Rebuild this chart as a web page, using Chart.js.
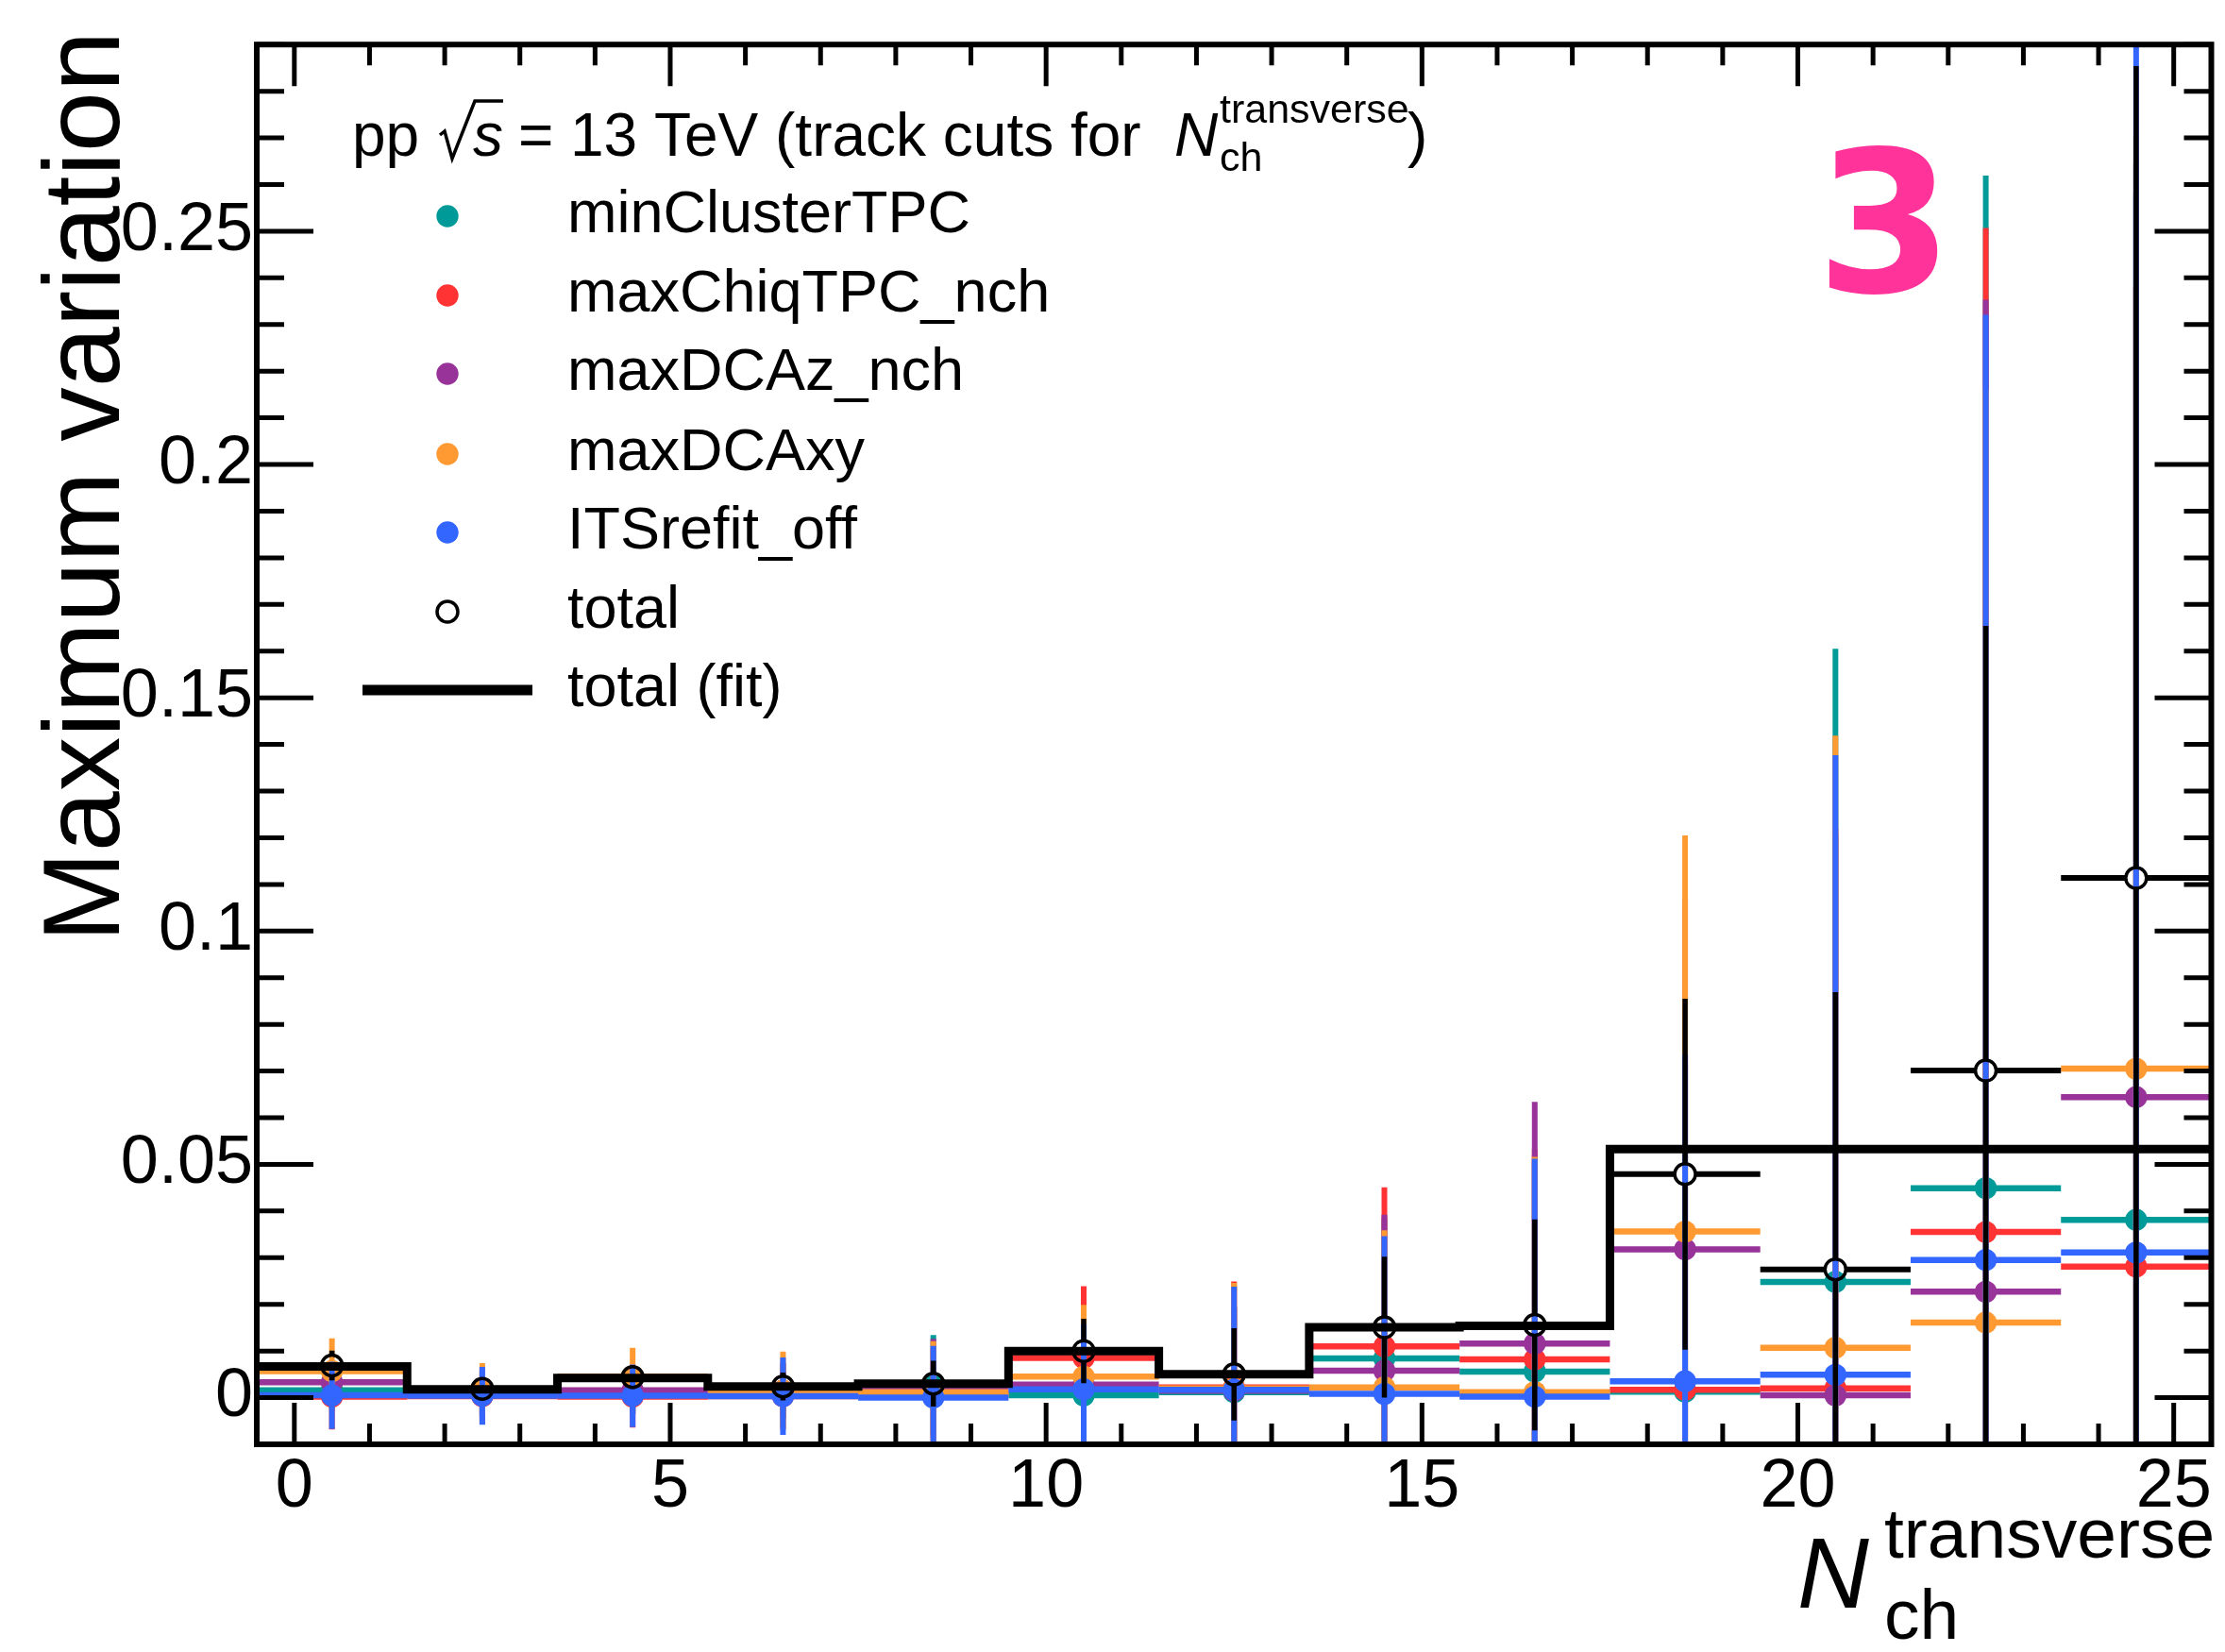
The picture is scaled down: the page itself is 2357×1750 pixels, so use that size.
<!DOCTYPE html>
<html>
<head>
<meta charset="utf-8">
<script src="https://cdn.jsdelivr.net/npm/chart.js@4.4.1/dist/chart.umd.min.js"></script>
<style>
  html, body { margin: 0; padding: 0; background: #fff; }
  canvas { display: block; }
</style>
</head>
<body>
<canvas id="variation" width="2357" height="1750" style="width:2357px;height:1750px"></canvas>
<script>
// bins of width 2 in N_ch (transverse)
const binCenters = [0.5, 2.5, 4.5, 6.5, 8.5, 10.5, 12.5, 14.5, 16.5, 18.5, 20.5, 22.5, 24.5];
const binHalfWidth = 1;

const seriesNames = ["minClusterTPC", "maxChiqTPC_nch", "maxDCAz_nch", "maxDCAxy", "ITSrefit_off"];
const seriesColors = ["#009a99", "#ff3333", "#973399", "#ff9a33", "#3366ff"];

const minClusterTPC    = [0.0016, 0.0005, 0.0005, 0.0005, 0.0028, 0.0005, 0.0012, 0.0084, 0.0056, 0.0013, 0.0248, 0.0449, 0.0381];
const minClusterTPCErr = [0.0040, 0.0040, 0.0040, 0.0050, 0.0106, 0.0120, 0.0180, 0.0300, 0.0450, 0.0700, 0.1357, 0.2170, 0.2200];
const maxChiqTPC       = [0.0002, 0.0003, 0.0002, 0.0003, 0.0008, 0.0085, 0.0022, 0.0110, 0.0082, 0.0017, 0.0020, 0.0355, 0.0281];
const maxChiqTPCErr    = [0.0070, 0.0060, 0.0066, 0.0070, 0.0095, 0.0154, 0.0227, 0.0341, 0.0450, 0.0700, 0.1200, 0.2152, 0.2100];
const maxDCAz          = [0.0033, 0.0006, 0.0016, 0.0015, 0.0016, 0.0028, 0.0015, 0.0058, 0.0116, 0.0318, 0.0005, 0.0227, 0.0644];
const maxDCAzErr       = [0.0040, 0.0050, 0.0050, 0.0060, 0.0110, 0.0120, 0.0180, 0.0334, 0.0518, 0.0750, 0.1200, 0.2126, 0.2000];
const maxDCAxy         = [0.0057, 0.0018, 0.0045, 0.0015, 0.0012, 0.0045, 0.0020, 0.0022, 0.0012, 0.0356, 0.0107, 0.0161, 0.0705];
const maxDCAxyErr      = [0.0070, 0.0056, 0.0062, 0.0084, 0.0109, 0.0154, 0.0226, 0.0337, 0.0504, 0.0849, 0.1312, 0.2000, 0.2000];
const itsRefitOff      = [0.0005, 0.0004, 0.0004, 0.0003, 0.0000, 0.0018, 0.0017, 0.0008, 0.0002, 0.0035, 0.0049, 0.0295, 0.0311];
const itsRefitOffErr   = [0.0072, 0.0062, 0.0067, 0.0083, 0.0111, 0.0140, 0.0221, 0.0338, 0.0510, 0.0700, 0.1328, 0.2026, 0.3000];

const totalVar = [0.0069, 0.0019, 0.0044, 0.0024, 0.0030, 0.0100, 0.0050, 0.0151, 0.0156, 0.0479, 0.0275, 0.0701, 0.1114];
const totalErr = [0.0032, 0.0020, 0.0025, 0.0030, 0.0049, 0.0069, 0.0099, 0.0151, 0.0226, 0.0376, 0.0594, 0.0953, 0.1740];
const totalFit = [0.0067, 0.0018, 0.0042, 0.0024, 0.0030, 0.0100, 0.0050, 0.0151, 0.0154, 0.0533, 0.0533, 0.0533, 0.0533];

const xTickValues = [0, 5, 10, 15, 20, 25];
const yTickValues = [0, 0.05, 0.1, 0.15, 0.2, 0.25];
const yTickLabels = ["0", "0.05", "0.1", "0.15", "0.2", "0.25"];

const FONT = '"Liberation Sans", Arial, Helvetica, sans-serif';

document.addEventListener("DOMContentLoaded", () => {
  drawChart();
});

function toPoints(values) {
  return binCenters.map((x, i) => ({ x: x, y: values[i] }));
}

function seriesDataset(idx, values, errors) {
  return {
    label: seriesNames[idx],
    data: toPoints(values),
    yErr: errors,
    barColor: seriesColors[idx],
    xBarWidth: 6.5,
    yBarWidth: 6,
    markerGap: 0,
    pointRadius: 11.7,
    pointHoverRadius: 11.7,
    pointBackgroundColor: seriesColors[idx],
    pointBorderWidth: 0,
    showLine: false,
    order: 6 - idx,
  };
}

// left bin edges for the fitted step, plus the closing right edge
function stepPoints() {
  const pts = binCenters.map((c, i) => ({ x: c - binHalfWidth, y: totalFit[i] }));
  pts.push({ x: binCenters[binCenters.length - 1] + binHalfWidth, y: totalFit[totalFit.length - 1] });
  return pts;
}

// error bars in ROOT style, drawn just before each dataset's markers
const errorBars = {
  id: "errorBars",
  beforeDatasetDraw(chart, args) {
    const ds = chart.data.datasets[args.index];
    if (!ds.yErr) return;
    const { ctx, chartArea: a } = chart;
    const xs = chart.scales.x;
    const ys = chart.scales.y;
    ctx.save();
    ctx.beginPath();
    ctx.rect(a.left, a.top, a.right - a.left, a.bottom - a.top);
    ctx.clip();
    ctx.strokeStyle = ds.barColor;
    ctx.lineCap = "butt";
    ds.data.forEach((p, i) => {
      const px = xs.getPixelForValue(p.x);
      const py = ys.getPixelForValue(p.y);
      const xl = xs.getPixelForValue(p.x - binHalfWidth);
      const xr = xs.getPixelForValue(p.x + binHalfWidth);
      const yt = ys.getPixelForValue(p.y + ds.yErr[i]);
      const yb = ys.getPixelForValue(p.y - ds.yErr[i]);
      const g = ds.markerGap;

      ctx.lineWidth = ds.xBarWidth;
      ctx.beginPath();
      ctx.moveTo(xl, py); ctx.lineTo(px - g, py);
      ctx.moveTo(px + g, py); ctx.lineTo(xr, py);
      ctx.stroke();

      ctx.lineWidth = ds.yBarWidth;
      ctx.beginPath();
      if (yt < py - g) { ctx.moveTo(px, yt); ctx.lineTo(px, py - g); }
      if (yb > py + g) { ctx.moveTo(px, py + g); ctx.lineTo(px, yb); }
      ctx.stroke();
    });
    ctx.restore();
  },
};

function drawFrame(chart) {
  const { ctx, chartArea: a } = chart;
  const xs = chart.scales.x;
  const ys = chart.scales.y;
  ctx.save();
  ctx.strokeStyle = "#000";
  ctx.lineWidth = 5;
  ctx.beginPath();
  for (let v = 0; v <= 25; v++) {
    const px = xs.getPixelForValue(v);
    const len = v % 5 === 0 ? 44 : 22;
    ctx.moveTo(px, a.bottom); ctx.lineTo(px, a.bottom - len);
    ctx.moveTo(px, a.top); ctx.lineTo(px, a.top + len);
  }
  for (let k = -1; k <= 29; k++) {
    const py = ys.getPixelForValue(k / 100);
    const len = k % 5 === 0 ? 60 : 29;
    ctx.moveTo(a.left, py); ctx.lineTo(a.left + len, py);
    ctx.moveTo(a.right, py); ctx.lineTo(a.right - len, py);
  }
  ctx.stroke();
  ctx.lineWidth = 6;
  ctx.strokeRect(a.left, a.top, a.right - a.left, a.bottom - a.top);
  ctx.restore();
}

function drawTitles(ctx) {
  ctx.save();
  ctx.fillStyle = "#000";

  // y axis title, right-aligned to the top of the frame
  ctx.save();
  ctx.translate(126, 33);
  ctx.rotate(-Math.PI / 2);
  ctx.font = "115px " + FONT;
  ctx.textAlign = "right";
  ctx.textBaseline = "alphabetic";
  ctx.fillText("Maximum variation", 0, 0);
  ctx.restore();

  // x axis title N_ch^transverse
  ctx.textAlign = "left";
  ctx.textBaseline = "alphabetic";
  ctx.font = "italic 105px " + FONT;
  ctx.fillText("N", 1904, 1703);
  ctx.font = "75px " + FONT;
  ctx.fillText("transverse", 1996, 1650);
  ctx.fillText("ch", 1996, 1736);
  ctx.restore();
}

function drawLegend(ctx) {
  ctx.save();
  ctx.fillStyle = "#000";
  ctx.textAlign = "left";
  ctx.textBaseline = "alphabetic";

  // header: pp sqrt(s) = 13 TeV (track cuts for N_ch^transverse)
  const base = 165;
  ctx.font = "64px " + FONT;
  ctx.fillText("pp", 373, base);
  ctx.strokeStyle = "#000";
  ctx.lineWidth = 3.5;
  ctx.lineJoin = "miter";
  ctx.beginPath();
  ctx.moveTo(466, 143);
  ctx.lineTo(471, 139);
  ctx.lineTo(479, 168);
  ctx.lineTo(503, 107);
  ctx.lineTo(533, 107);
  ctx.stroke();
  ctx.font = "italic 64px " + FONT;
  ctx.fillText("s", 501, base);
  ctx.font = "64px " + FONT;
  ctx.fillText("=", 549, base);
  ctx.fillText("13 TeV (track cuts for", 604, base);
  ctx.font = "italic 64px " + FONT;
  ctx.fillText("N", 1244, base);
  ctx.font = "43px " + FONT;
  ctx.fillText("transverse", 1292, 130);
  ctx.fillText("ch", 1292, 181);
  ctx.font = "64px " + FONT;
  ctx.fillText(")", 1491, base);

  const rows = [229, 313, 396, 481, 564, 648, 731];
  const markerX = 474;
  const textX = 601;
  ctx.font = "63px " + FONT;
  seriesNames.forEach((name, i) => {
    ctx.fillStyle = seriesColors[i];
    ctx.beginPath();
    ctx.arc(markerX, rows[i], 11.7, 0, Math.PI * 2);
    ctx.fill();
    ctx.fillStyle = "#000";
    ctx.fillText(name, textX, rows[i] + 17);
  });

  ctx.lineWidth = 3.5;
  ctx.beginPath();
  ctx.arc(markerX, rows[5], 11, 0, Math.PI * 2);
  ctx.stroke();
  ctx.fillText("total", textX, rows[5] + 17);

  ctx.lineWidth = 11;
  ctx.beginPath();
  ctx.moveTo(384, rows[6]);
  ctx.lineTo(564, rows[6]);
  ctx.stroke();
  ctx.fillText("total (fit)", textX, rows[6] + 17);

  // panel number
  ctx.fillStyle = "#ff3399";
  ctx.font = 'bold 208px "DejaVu Sans", sans-serif';
  ctx.fillText("3", 1924, 309);
  ctx.restore();
}

const decorations = {
  id: "decorations",
  afterDatasetsDraw(chart) {
    drawFrame(chart);
  },
  afterDraw(chart) {
    drawTitles(chart.ctx);
    drawLegend(chart.ctx);
  },
};

function drawChart() {
  const canvas = document.getElementById("variation");

  const datasets = [
    {
      label: "total",
      data: toPoints(totalVar),
      yErr: totalErr,
      barColor: "#000",
      xBarWidth: 6,
      yBarWidth: 5.5,
      markerGap: 12,
      pointRadius: 11,
      pointHoverRadius: 11,
      pointBackgroundColor: "rgba(0,0,0,0)",
      pointBorderColor: "#000",
      pointBorderWidth: 3.5,
      showLine: false,
      order: 0,
    },
    {
      label: "total (fit)",
      data: stepPoints(),
      showLine: true,
      stepped: "before",
      borderColor: "#000",
      borderWidth: 9,
      borderJoinStyle: "miter",
      borderCapStyle: "butt",
      pointRadius: 0,
      pointHoverRadius: 0,
      fill: false,
      order: 1,
    },
    seriesDataset(4, itsRefitOff, itsRefitOffErr),
    seriesDataset(3, maxDCAxy, maxDCAxyErr),
    seriesDataset(2, maxDCAz, maxDCAzErr),
    seriesDataset(1, maxChiqTPC, maxChiqTPCErr),
    seriesDataset(0, minClusterTPC, minClusterTPCErr),
  ];

  new Chart(canvas, {
    type: "scatter",
    data: { datasets: datasets },
    options: {
      responsive: false,
      animation: false,
      events: [],
      layout: { padding: { top: 30, right: 5, bottom: 0, left: 0 } },
      plugins: {
        legend: { display: false },
        tooltip: { enabled: false },
      },
      scales: {
        x: {
          type: "linear",
          min: -0.5,
          max: 25.5,
          afterBuildTicks: (scale) => {
            scale.ticks = xTickValues.map((v) => ({ value: v }));
          },
          afterFit: (scale) => {
            scale.height = 220;
          },
          grid: { display: false, drawTicks: false },
          border: { display: false },
          ticks: {
            color: "#000",
            font: { family: FONT, size: 72 },
            padding: 3,
            maxRotation: 0,
            autoSkip: false,
            callback: (v) => String(v),
          },
        },
        y: {
          type: "linear",
          min: -0.01,
          max: 0.29,
          afterBuildTicks: (scale) => {
            scale.ticks = yTickValues.map((v) => ({ value: v }));
          },
          afterFit: (scale) => {
            scale.width = 272;
          },
          grid: { display: false, drawTicks: false },
          border: { display: false },
          ticks: {
            color: "#000",
            font: { family: FONT, size: 72 },
            padding: 4,
            autoSkip: false,
            callback: (v) => yTickLabels[yTickValues.indexOf(v)],
          },
        },
      },
    },
    plugins: [errorBars, decorations],
  });
}
</script>
</body>
</html>
